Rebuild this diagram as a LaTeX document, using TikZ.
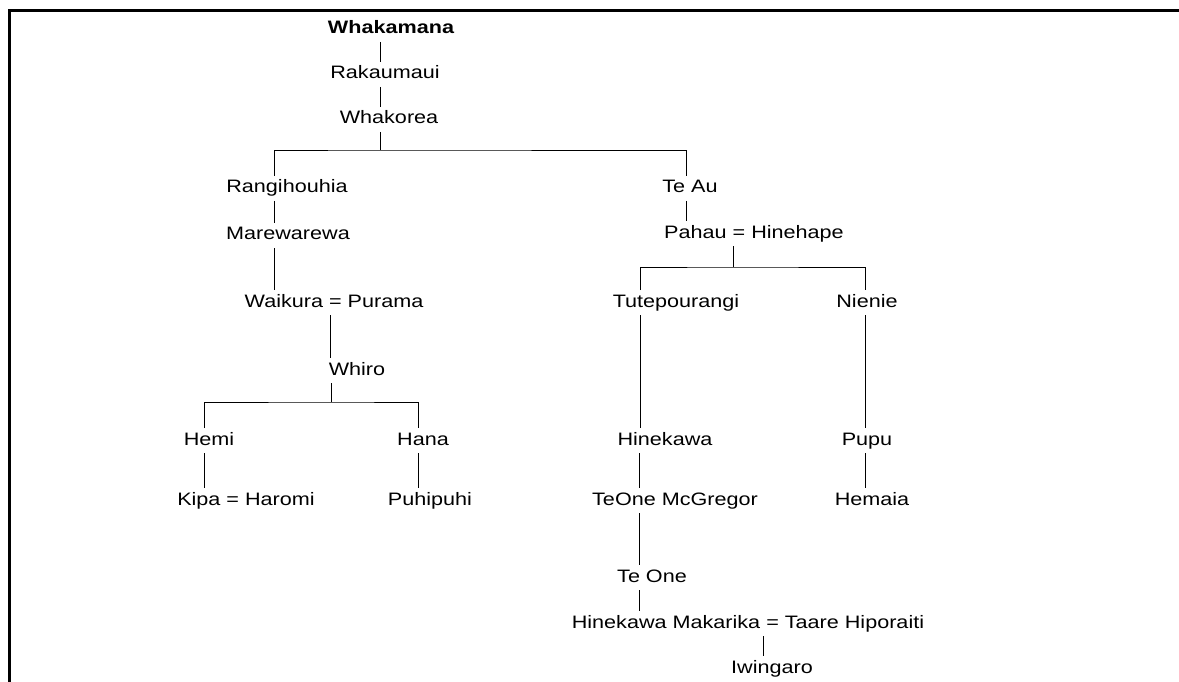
\documentclass[tikz,border=0pt]{standalone}
\usepackage{fontspec}
\setmainfont{Liberation Sans}[FakeStretch=1.2]

\tikzset{
  person/.style={anchor=base, inner sep=0pt, outer sep=4pt, text height=13pt, text depth=4pt, font=\fontsize{18}{22}\selectfont},
  link/.style={line width=0.8pt}
}

\begin{document}
\begin{tikzpicture}[x=1pt, y=-1pt]
  \useasboundingbox (0,0) rectangle (1179,682);
  \draw[line width=3pt] (9.5,682) -- (9.5,11) -- (1179,11);

  % top line
  \node[person, font=\fontsize{18}{22}\selectfont\bfseries] (whakamana) at (391,34) {Whakamana};
  \node[person] (rakaumaui) at (385,79) {Rakaumaui};
  \node[person] (whakorea) at (389,124) {Whakorea};
  \coordinate (fork1) at (380,150);
  % left branch
  \node[person] (rangihouhia) at (287,193) {Rangihouhia};
  \node[person] (marewarewa) at (288,240) {Marewarewa};
  \node[person] (waikura) at (334,307) {Waikura = Purama};
  \node[person] (whiro) at (357,375) {Whiro};
  \coordinate (fork2) at (331,402);
  \node[person] (hemi) at (209,445) {Hemi};
  \node[person] (hana) at (423,445) {Hana};
  \node[person] (kipa) at (246,505) {Kipa = Haromi};
  \node[person] (puhipuhi) at (430,505) {Puhipuhi};
  % right branch
  \node[person] (teau) at (690,193) {Te Au};
  \node[person] (pahau) at (754,238) {Pahau = Hinehape};
  \coordinate (fork3) at (733,267);
  \node[person] (tutepourangi) at (676,307) {Tutepourangi};
  \node[person] (nienie) at (867,307) {Nienie};
  \node[person] (hinekawa) at (665,445) {Hinekawa};
  \node[person] (pupu) at (867,445) {Pupu};
  \node[person] (mcgregor) at (675,505) {TeOne McGregor};
  \node[person] (hemaia) at (872,505) {Hemaia};
  \node[person] (teone) at (652,582) {Te One};
  \node[person] (makarika) at (748,628) {Hinekawa Makarika = Taare Hiporaiti};
  \node[person] (iwingaro) at (772,673) {Iwingaro};

  \draw[link]
    (380,0 |- whakamana.south) -- (380,0 |- rakaumaui.north)
    (380,0 |- rakaumaui.south) -- (380,0 |- whakorea.north)
    (fork1 |- whakorea.south) -- (fork1)
    (274,0 |- rangihouhia.north) |- (fork1) -| (686,0 |- teau.north)
    (274,0 |- rangihouhia.south) -- (274,0 |- marewarewa.north)
    (274,0 |- marewarewa.south) -- (274,0 |- waikura.north)
    (330,0 |- waikura.south) -- (330,0 |- whiro.north)
    (fork2 |- whiro.south) -- (fork2)
    (204,0 |- hemi.north) |- (fork2) -| (418,0 |- hana.north)
    (204,0 |- hemi.south) -- (204,0 |- kipa.north)
    (418,0 |- hana.south) -- (418,0 |- puhipuhi.north)
    (686,0 |- teau.south) -- (686,0 |- pahau.north)
    (fork3 |- pahau.south) -- (fork3)
    (640,0 |- tutepourangi.north) |- (fork3) -| (865,0 |- nienie.north)
    (640,0 |- tutepourangi.south) -- (640,0 |- hinekawa.north)
    (639,0 |- hinekawa.south) -- (639,0 |- mcgregor.north)
    (639,0 |- mcgregor.south) -- (639,0 |- teone.north)
    (639,0 |- teone.south) -- (639,0 |- makarika.north)
    (763,0 |- makarika.south) -- (763,0 |- iwingaro.north)
    (865,0 |- nienie.south) -- (865,0 |- pupu.north)
    (865,0 |- pupu.south) -- (865,0 |- hemaia.north)
  ;
\end{tikzpicture}
\end{document}
